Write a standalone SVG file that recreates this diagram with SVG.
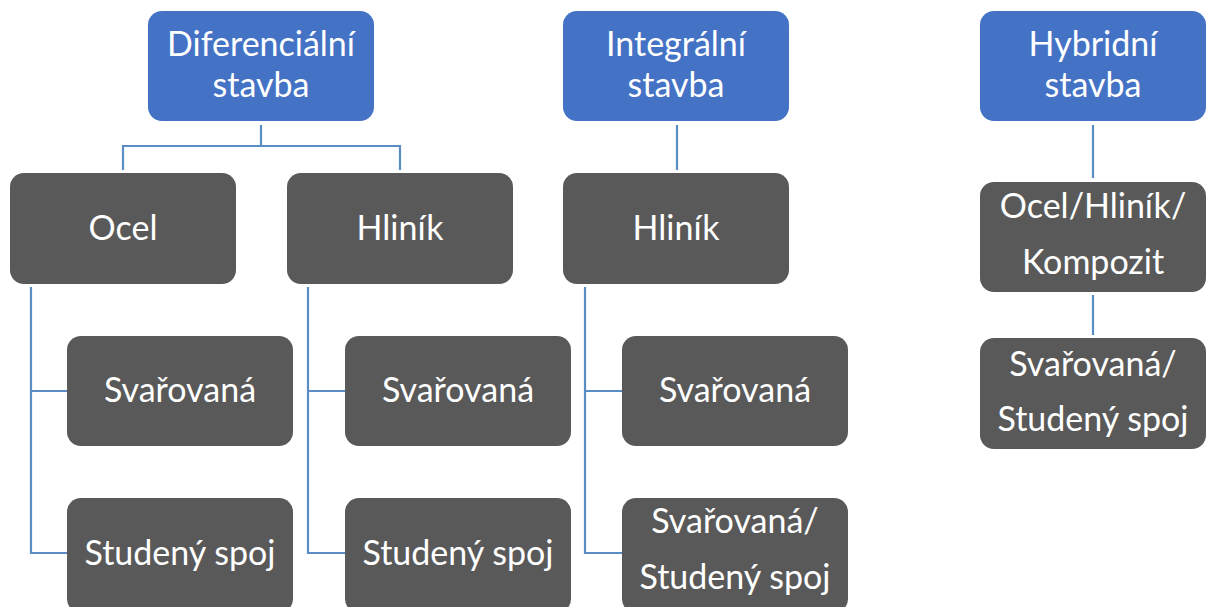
<svg xmlns="http://www.w3.org/2000/svg" width="1209" height="607" viewBox="0 0 1209 607">
<style>
.top{fill:#4472C4;}
.box{fill:#595959;}
text{font-family:Lato,"Open Sans",sans-serif;font-size:34px;fill:#FFFFFF;text-anchor:middle;}
.c{fill:none;stroke:#5A8DC4;stroke-width:2.2;}
</style>
<rect width="1209" height="607" fill="#FFFFFF"/>
<g id="connectors">
<path class="c" d="M261,125 V146 M123,170 V146 H400 V170"/>
<path class="c" d="M31,287 V553 H67 M31,391 H67"/>
<path class="c" d="M308,287 V553 H345 M308,391 H345"/>
<path class="c" d="M677,125 V170"/>
<path class="c" d="M585,287 V553 H622 M585,391 H622"/>
<path class="c" d="M1093,125 V178"/>
<path class="c" d="M1093,295 V335"/>
</g>
<g id="n-diferencialni"><rect class="top" x="148" y="11" width="226" height="110" rx="14"/><text x="261" y="56">Diferenciální</text><text x="261" y="97">stavba</text></g>
<g id="n-integralni"><rect class="top" x="563" y="11" width="226" height="110" rx="14"/><text x="676" y="56">Integrální</text><text x="676" y="97">stavba</text></g>
<g id="n-hybridni"><rect class="top" x="980" y="11" width="226" height="110" rx="14"/><text x="1093" y="56">Hybridní</text><text x="1093" y="97">stavba</text></g>
<g id="n-ocel"><rect class="box" x="10" y="173" width="226" height="111" rx="14"/><text x="123" y="240">Ocel</text></g>
<g id="n-hlinik1"><rect class="box" x="287" y="173" width="226" height="111" rx="14"/><text x="400" y="240">Hliník</text></g>
<g id="n-hlinik2"><rect class="box" x="563" y="173" width="226" height="111" rx="14"/><text x="676" y="240">Hliník</text></g>
<g id="n-ocel-hlinik-kompozit"><rect class="box" x="980" y="182" width="226" height="110" rx="14"/><text x="1093" y="218">Ocel/Hliník/</text><text x="1093" y="274">Kompozit</text></g>
<g id="n-svar1"><rect class="box" x="67" y="336" width="226" height="110" rx="14"/><text x="180" y="402">Svařovaná</text></g>
<g id="n-stud1"><rect class="box" x="67" y="498" width="226" height="115" rx="14"/><text x="180" y="565">Studený spoj</text></g>
<g id="n-svar2"><rect class="box" x="345" y="336" width="226" height="110" rx="14"/><text x="458" y="402">Svařovaná</text></g>
<g id="n-stud2"><rect class="box" x="345" y="498" width="226" height="115" rx="14"/><text x="458" y="565">Studený spoj</text></g>
<g id="n-svar3"><rect class="box" x="622" y="336" width="226" height="110" rx="14"/><text x="735" y="402">Svařovaná</text></g>
<g id="n-svar-stud3"><rect class="box" x="622" y="498" width="226" height="115" rx="14"/><text x="735" y="533">Svařovaná/</text><text x="735" y="589">Studený spoj</text></g>
<g id="n-svar-stud4"><rect class="box" x="980" y="338" width="226" height="111" rx="14"/><text x="1093" y="376">Svařovaná/</text><text x="1093" y="431">Studený spoj</text></g>
</svg>
